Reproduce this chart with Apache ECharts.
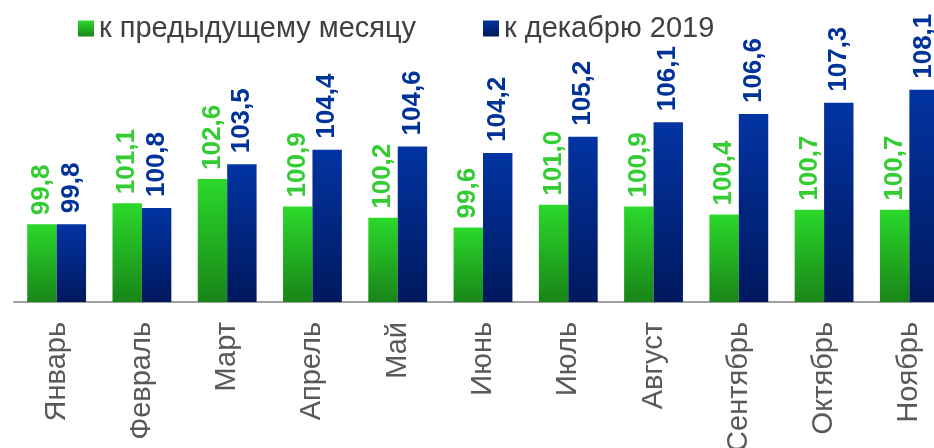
<!DOCTYPE html>
<html>
<head>
<meta charset="utf-8">
<title>Индексы</title>
<script src="https://cdn.jsdelivr.net/npm/echarts@6/dist/echarts.min.js"></script>
<style>
  html, body { margin: 0; padding: 0; background: #fff; overflow: hidden; }
  /* график шире окна: последняя категория обрезана справа, как в оригинале */
  #chart { width: 952px; height: 448px; }
</style>
</head>
<body>
<div id="chart"></div>
<script>
var months = ['Январь', 'Февраль', 'Март', 'Апрель', 'Май', 'Июнь', 'Июль', 'Август', 'Сентябрь', 'Октябрь', 'Ноябрь'];
var prevMonth = [99.8, 101.1, 102.6, 100.9, 100.2, 99.6, 101.0, 100.9, 100.4, 100.7, 100.7]; // к предыдущему месяцу
var toDec2019 = [99.8, 100.8, 103.5, 104.4, 104.6, 104.2, 105.2, 106.1, 106.6, 107.3, 108.1]; // к декабрю 2019

var fontName = 'Arial, "Liberation Sans", sans-serif';
var myecharts = echarts.init(document.getElementById('chart'));

function fmt(p) {
    return p.value.toFixed(1).replace('.', ',');
}

var greenFill = new echarts.graphic.LinearGradient(0, 0, 0, 1, [
    { offset: 0, color: '#2bd92b' },
    { offset: 1, color: '#198518' }
]);
var blueFill = new echarts.graphic.LinearGradient(0, 0, 0, 1, [
    { offset: 0, color: '#0234a2' },
    { offset: 1, color: '#00185e' }
]);

var option = {
    animation: false,
    legend: [{
        data: ['к предыдущему месяцу'],
        left: 78,
        top: 14,
        padding: 0,
        icon: 'rect',
        itemWidth: 16,
        itemHeight: 16,
        textStyle: { fontSize: 29, color: '#404040', fontFamily: fontName }
    }, {
        data: ['к декабрю 2019'],
        left: 483,
        top: 14,
        padding: 0,
        icon: 'rect',
        itemWidth: 16,
        itemHeight: 16,
        textStyle: { fontSize: 29, color: '#404040', fontFamily: fontName }
    }],
    grid: {
        left: 14,
        top: 59,
        right: 0,
        height: 243,
        containLabel: false,
        outerBoundsMode: 'none' // подписи месяцев уходят за нижний край
    },
    xAxis: {
        type: 'category',
        data: months,
        axisTick: { show: false },
        axisLine: { lineStyle: { color: '#a0a0a0', width: 2 } },
        axisLabel: {
            rotate: 90,
            margin: 20,
            fontSize: 29,
            color: '#595959',
            fontFamily: fontName,
            interval: 0
        }
    },
    yAxis: {
        type: 'value',
        min: 95,
        max: 110,
        show: false,
        splitLine: { show: false }
    },
    series: [{
        name: 'к предыдущему месяцу',
        type: 'bar',
        data: prevMonth,
        barGap: '0%',
        barCategoryGap: '31%',
        itemStyle: { color: greenFill },
        label: {
            show: true,
            position: 'top',
            rotate: 90,
            align: 'left',
            verticalAlign: 'middle',
            distance: 9,
            fontSize: 26,
            fontWeight: 'bold',
            color: '#33cc33',
            fontFamily: fontName,
            formatter: fmt
        }
    }, {
        name: 'к декабрю 2019',
        type: 'bar',
        data: toDec2019,
        itemStyle: { color: blueFill },
        label: {
            show: true,
            position: 'top',
            rotate: 90,
            align: 'left',
            verticalAlign: 'middle',
            distance: 11,
            fontSize: 26,
            fontWeight: 'bold',
            color: '#003399',
            fontFamily: fontName,
            formatter: fmt
        }
    }]
};

myecharts.setOption(option);
</script>
</body>
</html>
